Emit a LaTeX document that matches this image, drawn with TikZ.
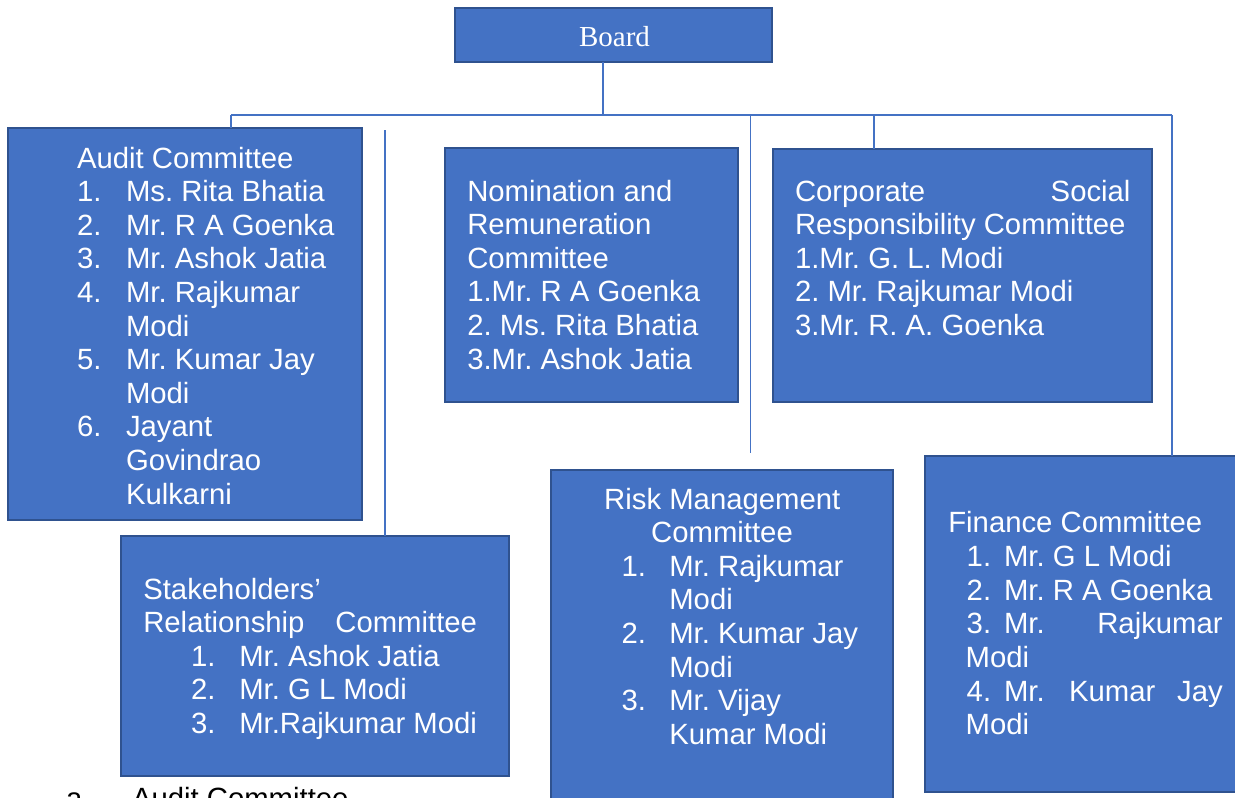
\documentclass[tikz,border=0pt]{standalone}
\usepackage{fontspec}
\setmainfont{Liberation Sans}
\newfontfamily\boardfont{Liberation Serif}
\frenchspacing
\definecolor{boxfill}{HTML}{4472C4}
\definecolor{boxline}{HTML}{2F528F}
\definecolor{connline}{HTML}{4472C4}
\tikzset{
  box/.style={draw=boxline, fill=boxfill, line width=2pt, rectangle, inner sep=0pt, outer sep=0pt, anchor=north west},
  conn/.style={draw=connline, line width=1.2pt},
  txt/.style={text=white, font=\fontsize{29.3}{33.6}\selectfont, inner sep=0pt, outer sep=0pt, anchor=base west},
  txte/.style={txt, anchor=base east},
  txtc/.style={txt, anchor=base},
  blk/.style={txt, text=black}
}
\newcommand{\mytl}[4]{\node[txt] (#1) at (#2,#3) {#4};}
\newcommand{\mytr}[4]{\node[txte] (#1) at (#2,#3) {#4};}
\newcommand{\mytc}[4]{\node[txtc] (#1) at (#2,#3) {#4};}
\begin{document}
\begin{tikzpicture}[x=1pt,y=-1pt]
\useasboundingbox (0,0) rectangle (1235,798);
\clip (0,0) rectangle (1235,798);
\fill[white] (0,0) rectangle (1235,798);

% boxes
\node[box, minimum width=317pt, minimum height=54pt, anchor=center] (board) at (613.5,34.5) {};
\node[text=white, font=\boardfont\fontsize{29}{33}\selectfont, inner sep=0pt, anchor=base] (boardtxt) at (614.5,46) {Board};
\node[box, minimum width=354.5pt, minimum height=392pt] (audit) at (7.5,127.5) {};
\node[box, minimum width=388pt, minimum height=240pt] (stake) at (121,536) {};
\node[box, minimum width=293.3pt, minimum height=253.4pt] (nom) at (445,148.3) {};
\node[box, minimum width=379.6pt, minimum height=253pt] (csr) at (772.7,148.7) {};
\node[box, minimum width=342.3pt, minimum height=360pt] (risk) at (551,470) {};
\node[box, minimum width=330pt, minimum height=336pt] (fin) at (925,455.7) {};

% connectors
\coordinate (hl) at (231,115);
\coordinate (hr) at (1172,115);
\coordinate (bj) at (603,115);
\coordinate (sj) at (385,130);
\coordinate (rj) at (750.5,116);
\coordinate (rk) at (750.5,453);
\coordinate (cj) at (874,115);
\draw[conn] ([xshift=-10.5pt]board.south) -- (bj);
\draw[conn] (hl) -- (hr);
\draw[conn] (hl) -- (hl |- audit.north);
\draw[conn] (sj) -- (sj |- stake.north);
\draw[conn] (rj) -- (rk);
\draw[conn] (cj) -- (cj |- csr.north);
\draw[conn] (hr) -- (hr |- fin.north);

% Audit Committee
\mytl{a0}{77}{168}{Audit Committee}
\mytl{a1n}{77}{201.6}{1.}\mytl{a1}{126}{201.6}{Ms. Rita Bhatia}
\mytl{a2n}{77}{235.2}{2.}\mytl{a2}{126}{235.2}{Mr. R A Goenka}
\mytl{a3n}{77}{268.8}{3.}\mytl{a3}{126}{268.8}{Mr. Ashok Jatia}
\mytl{a4n}{77}{302.4}{4.}\mytl{a4}{126}{302.4}{Mr. Rajkumar}
\mytl{a4b}{126}{336}{Modi}
\mytl{a5n}{77}{369.6}{5.}\mytl{a5}{126}{369.6}{Mr. Kumar Jay}
\mytl{a5b}{126}{403.2}{Modi}
\mytl{a6n}{77}{436.8}{6.}\mytl{a6}{126}{436.8}{Jayant}
\mytl{a6b}{126}{470.4}{Govindrao}
\mytl{a6c}{126}{504}{Kulkarni}

% Nomination and Remuneration Committee
\mytl{n0}{467.3}{201}{Nomination and}
\mytl{n1}{467.3}{234.6}{Remuneration}
\mytl{n2}{467.3}{268.2}{Committee}
\mytl{n3}{467.3}{301.8}{1.Mr. R A Goenka}
\mytl{n4}{467.3}{335.4}{2. Ms. Rita Bhatia}
\mytl{n5}{467.3}{369}{3.Mr. Ashok Jatia}

% CSR Committee
\mytl{c0}{795}{201}{Corporate}\mytr{c0b}{1130.5}{201}{Social}
\mytl{c1}{795}{234.6}{Responsibility Committee}
\mytl{c2}{795}{268.2}{1.Mr. G. L. Modi}
\mytl{c3}{795}{301.8}{2. Mr. Rajkumar Modi}
\mytl{c4}{795}{335.4}{3.Mr. R. A. Goenka}

% Stakeholders' Relationship Committee
\mytl{s0}{143.3}{599}{Stakeholders’}
\mytl{s1}{143.3}{632.6}{Relationship}\mytr{s1b}{477}{632.6}{Committee}
\mytl{s2n}{191}{666.2}{1.}\mytl{s2}{239.3}{666.2}{Mr. Ashok Jatia}
\mytl{s3n}{191}{699.8}{2.}\mytl{s3}{239.3}{699.8}{Mr. G L Modi}
\mytl{s4n}{191}{733.4}{3.}\mytl{s4}{239.3}{733.4}{Mr.Rajkumar Modi}

% Risk Management Committee
\mytc{r0}{722.3}{509}{Risk Management}
\mytc{r1}{722}{542.6}{Committee}
\mytl{r2n}{621.7}{576.2}{1.}\mytl{r2}{669.3}{576.2}{Mr. Rajkumar}
\mytl{r2b}{669.3}{609.8}{Modi}
\mytl{r3n}{621.7}{643.4}{2.}\mytl{r3}{669.3}{643.4}{Mr. Kumar Jay}
\mytl{r3b}{669.3}{677}{Modi}
\mytl{r4n}{621.7}{710.6}{3.}\mytl{r4}{669.3}{710.6}{Mr. Vijay}
\mytl{r4b}{669.3}{744.2}{Kumar Modi}

% Finance Committee
\mytl{f0}{948.3}{532}{Finance Committee}
\mytl{f1n}{966.7}{566.6}{1.}\mytl{f1}{1004}{566.6}{Mr. G L Modi}
\mytl{f2n}{966.7}{600.2}{2.}\mytl{f2}{1004}{600.2}{Mr. R A Goenka}
\mytl{f3n}{966.7}{633.8}{3.}\mytl{f3}{1004}{633.8}{Mr.}\mytr{f3b}{1222.7}{633.8}{Rajkumar}
\mytl{f3c}{965.7}{667.4}{Modi}
\mytl{f4n}{966.7}{701}{4.}\mytl{f4}{1004}{701}{Mr.}\mytl{f4b}{1069}{701}{Kumar}\mytr{f4c}{1222.7}{701}{Jay}
\mytl{f4d}{965.7}{734.6}{Modi}

% cut-off list item below the chart (cut at the bottom edge, as in the reference)
\node[blk] (bla) at (66,808) {a.};
\node[blk] (blt) at (132,808) {Audit Committee};
\end{tikzpicture}
\end{document}
